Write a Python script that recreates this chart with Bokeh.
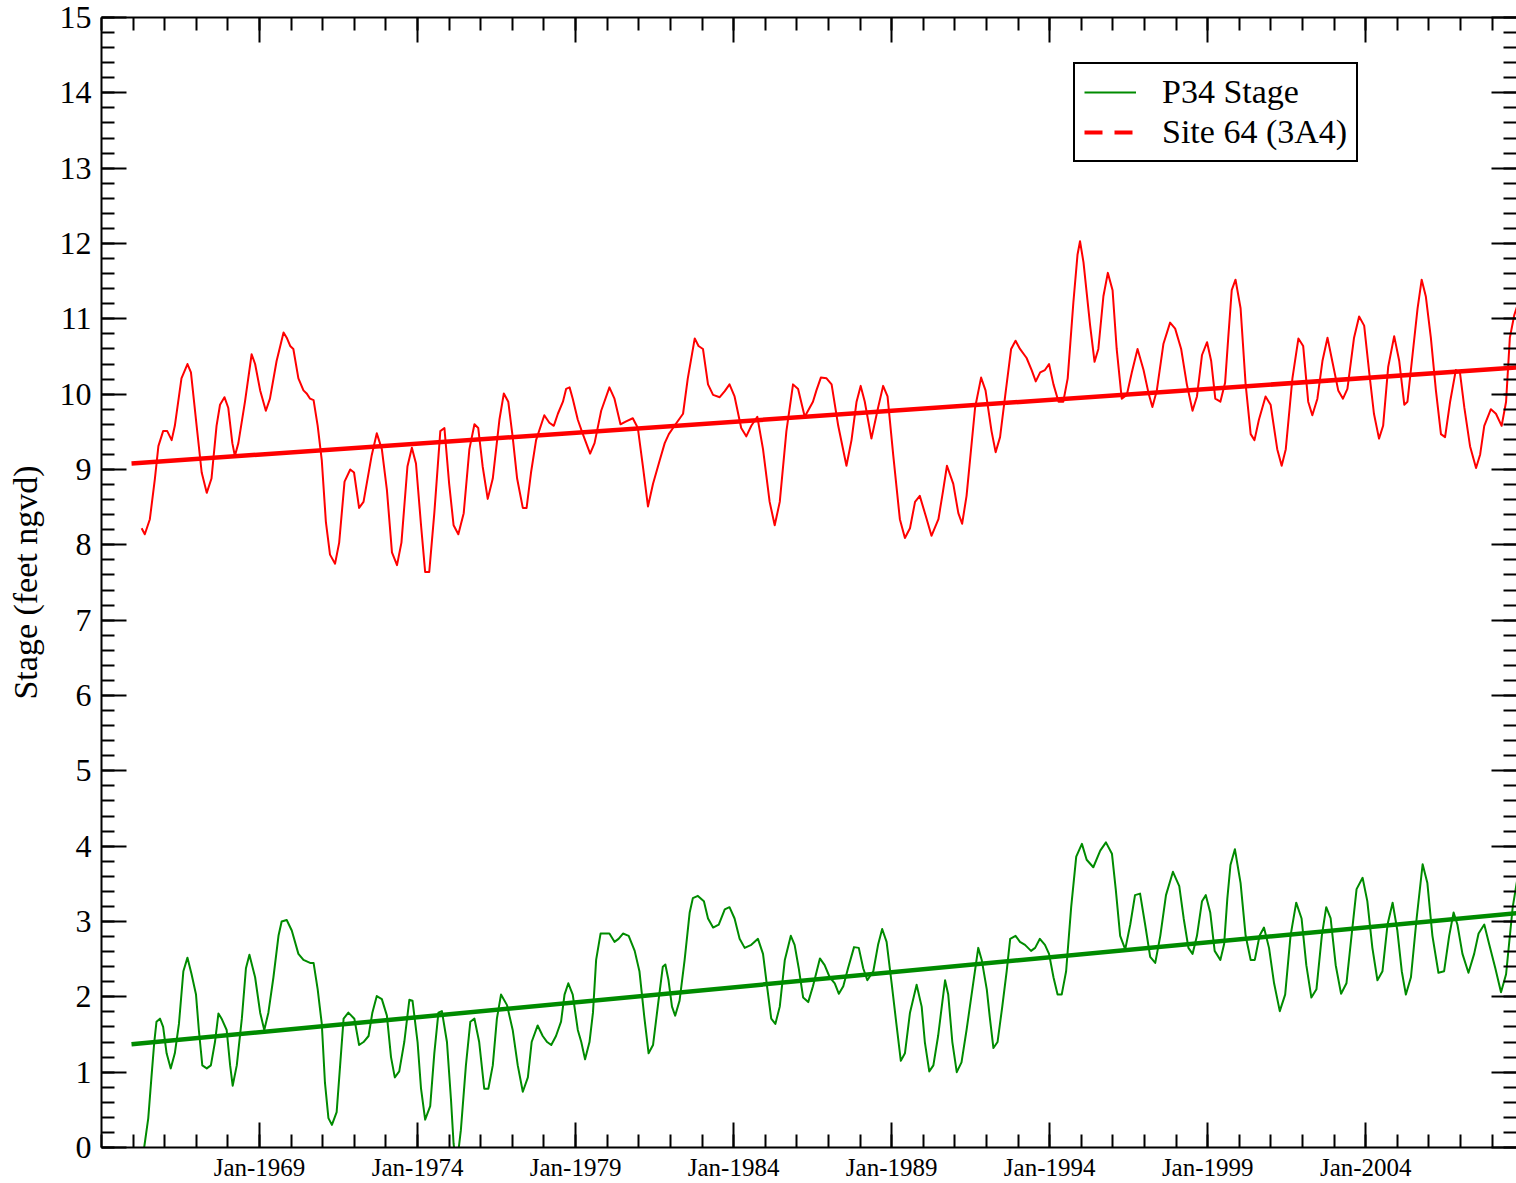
from bokeh.plotting import figure
from bokeh.models import FixedTicker, LinearAxis, Legend, LegendItem, Range1d
from bokeh.embed import file_html
from bokeh.resources import INLINE

FONT = "'Liberation Serif', 'Times New Roman', serif"
RED = "#ff0000"
GREEN = "#008b00"

# ---- data (decimal years, feet ngvd) ----
site64_year = [1965.27, 1965.37, 1965.53, 1965.69, 1965.80, 1965.95, 1966.08, 1966.22, 1966.32, 1966.53,
               1966.72, 1966.83, 1967.01, 1967.17, 1967.33, 1967.48, 1967.64, 1967.75, 1967.89, 1968.01,
               1968.14, 1968.22, 1968.33, 1968.54, 1968.75, 1968.86, 1969.02, 1969.20, 1969.33, 1969.54,
               1969.76, 1969.86, 1969.97, 1970.07, 1970.23, 1970.39, 1970.49, 1970.60, 1970.71, 1970.84,
               1970.97, 1971.10, 1971.23, 1971.39, 1971.52, 1971.69, 1971.87, 1971.99, 1972.15, 1972.29,
               1972.55, 1972.71, 1972.87, 1973.03, 1973.19, 1973.35, 1973.49, 1973.68, 1973.82, 1973.95,
               1974.11, 1974.24, 1974.37, 1974.53, 1974.72, 1974.85, 1975.00, 1975.14, 1975.29, 1975.46,
               1975.64, 1975.80, 1975.92, 1976.06, 1976.22, 1976.38, 1976.59, 1976.73, 1976.87, 1977.01,
               1977.15, 1977.33, 1977.45, 1977.59, 1977.75, 1978.01, 1978.17, 1978.31, 1978.44, 1978.60,
               1978.70, 1978.81, 1978.91, 1979.07, 1979.23, 1979.46, 1979.60, 1979.81, 1980.07, 1980.23,
               1980.42, 1980.60, 1980.81, 1980.97, 1981.13, 1981.29, 1981.45, 1981.66, 1981.82, 1981.95,
               1982.13, 1982.40, 1982.55, 1982.77, 1982.89, 1983.03, 1983.19, 1983.35, 1983.56, 1983.72,
               1983.87, 1984.03, 1984.24, 1984.40, 1984.56, 1984.75, 1984.93, 1985.14, 1985.30, 1985.46,
               1985.67, 1985.88, 1986.04, 1986.25, 1986.51, 1986.62, 1986.76, 1986.94, 1987.10, 1987.31,
               1987.57, 1987.73, 1987.89, 1988.02, 1988.15, 1988.36, 1988.57, 1988.73, 1988.87, 1989.05,
               1989.26, 1989.42, 1989.58, 1989.74, 1989.89, 1990.11, 1990.26, 1990.48, 1990.62, 1990.75,
               1990.95, 1991.11, 1991.23, 1991.37, 1991.64, 1991.83, 1991.97, 1992.16, 1992.29, 1992.43,
               1992.59, 1992.78, 1992.92, 1993.06, 1993.27, 1993.43, 1993.56, 1993.70, 1993.85, 1993.98,
               1994.12, 1994.28, 1994.43, 1994.57, 1994.75, 1994.88, 1994.96, 1995.07, 1995.28, 1995.42,
               1995.54, 1995.70, 1995.84, 1995.99, 1996.12, 1996.28, 1996.44, 1996.60, 1996.78, 1996.97,
               1997.13, 1997.25, 1997.39, 1997.60, 1997.81, 1997.97, 1998.16, 1998.34, 1998.52, 1998.66,
               1998.82, 1998.98, 1999.11, 1999.24, 1999.40, 1999.55, 1999.65, 1999.76, 1999.88, 2000.04,
               2000.20, 2000.36, 2000.48, 2000.62, 2000.83, 2000.99, 2001.20, 2001.34, 2001.47, 2001.68,
               2001.87, 2002.02, 2002.18, 2002.31, 2002.47, 2002.63, 2002.79, 2002.94, 2003.13, 2003.28,
               2003.42, 2003.63, 2003.79, 2003.95, 2004.11, 2004.26, 2004.42, 2004.55, 2004.71, 2004.90,
               2005.06, 2005.22, 2005.32, 2005.48, 2005.64, 2005.77, 2005.90, 2006.06, 2006.22, 2006.38,
               2006.51, 2006.67, 2006.85, 2006.98, 2007.12, 2007.30, 2007.49, 2007.62, 2007.75, 2007.96,
               2008.12, 2008.30, 2008.44, 2008.56, 2008.70, 2008.83]
site64_stage = [8.22, 8.14, 8.34, 8.88, 9.31, 9.51, 9.51, 9.39, 9.58, 10.21,
                10.40, 10.29, 9.58, 8.96, 8.69, 8.88, 9.58, 9.86, 9.96, 9.82,
                9.35, 9.18, 9.35, 9.90, 10.53, 10.40, 10.05, 9.78, 9.94, 10.44,
                10.82, 10.75, 10.64, 10.60, 10.21, 10.05, 10.01, 9.94, 9.92, 9.58,
                9.12, 8.30, 7.87, 7.75, 8.03, 8.84, 9.00, 8.96, 8.49, 8.57,
                9.19, 9.48, 9.27, 8.73, 7.90, 7.73, 8.03, 9.04, 9.29, 9.08,
                8.26, 7.64, 7.64, 8.42, 9.51, 9.55, 8.81, 8.26, 8.14, 8.42,
                9.27, 9.60, 9.55, 9.04, 8.61, 8.88, 9.66, 10.01, 9.90, 9.43,
                8.88, 8.49, 8.49, 8.96, 9.39, 9.72, 9.62, 9.58, 9.74, 9.90,
                10.07, 10.09, 9.94, 9.66, 9.47, 9.21, 9.35, 9.78, 10.09, 9.94,
                9.60, 9.64, 9.68, 9.55, 9.04, 8.51, 8.81, 9.12, 9.35, 9.47,
                9.58, 9.74, 10.21, 10.74, 10.64, 10.60, 10.13, 9.99, 9.96, 10.04,
                10.13, 9.97, 9.55, 9.44, 9.58, 9.70, 9.27, 8.57, 8.26, 8.57,
                9.51, 10.13, 10.07, 9.70, 9.90, 10.05, 10.22, 10.21, 10.13, 9.58,
                9.05, 9.39, 9.90, 10.11, 9.90, 9.41, 9.82, 10.11, 9.97, 9.19,
                8.34, 8.09, 8.22, 8.57, 8.65, 8.34, 8.12, 8.34, 8.70, 9.05,
                8.81, 8.42, 8.28, 8.65, 9.82, 10.22, 10.05, 9.51, 9.23, 9.43,
                9.97, 10.60, 10.71, 10.60, 10.48, 10.32, 10.17, 10.29, 10.32, 10.40,
                10.13, 9.90, 9.90, 10.21, 11.22, 11.85, 12.03, 11.75, 10.91, 10.43,
                10.60, 11.30, 11.61, 11.38, 10.60, 9.94, 9.99, 10.29, 10.60, 10.32,
                10.01, 9.83, 10.05, 10.67, 10.95, 10.87, 10.60, 10.13, 9.78, 9.97,
                10.52, 10.69, 10.44, 9.94, 9.90, 10.15, 10.75, 11.38, 11.52, 11.14,
                10.13, 9.47, 9.39, 9.66, 9.97, 9.86, 9.27, 9.05, 9.27, 10.21,
                10.74, 10.64, 9.90, 9.72, 9.94, 10.44, 10.75, 10.44, 10.05, 9.94,
                10.07, 10.75, 11.03, 10.91, 10.29, 9.74, 9.41, 9.58, 10.36, 10.77,
                10.44, 9.86, 9.90, 10.52, 11.14, 11.52, 11.30, 10.75, 10.05, 9.47,
                9.43, 9.90, 10.32, 10.29, 9.82, 9.31, 9.02, 9.20, 9.58, 9.80,
                9.74, 9.58, 9.90, 10.75, 11.05, 11.22]

p34_year = [1965.35, 1965.48, 1965.58, 1965.67, 1965.74, 1965.85, 1965.95, 1966.06, 1966.19, 1966.32,
            1966.45, 1966.59, 1966.72, 1966.85, 1966.99, 1967.08, 1967.19, 1967.33, 1967.46, 1967.59,
            1967.70, 1967.80, 1967.96, 1968.07, 1968.15, 1968.28, 1968.44, 1968.57, 1968.68, 1968.86,
            1969.02, 1969.15, 1969.28, 1969.44, 1969.60, 1969.70, 1969.86, 1970.02, 1970.23, 1970.39,
            1970.60, 1970.71, 1970.84, 1970.97, 1971.07, 1971.18, 1971.29, 1971.44, 1971.55, 1971.66,
            1971.81, 1972.00, 1972.15, 1972.29, 1972.45, 1972.57, 1972.71, 1972.87, 1973.03, 1973.16,
            1973.28, 1973.42, 1973.58, 1973.74, 1973.84, 1974.00, 1974.11, 1974.24, 1974.40, 1974.53,
            1974.66, 1974.77, 1974.93, 1975.06, 1975.14, 1975.23, 1975.32, 1975.37, 1975.53, 1975.67,
            1975.80, 1975.95, 1976.11, 1976.24, 1976.38, 1976.51, 1976.64, 1976.83, 1977.01, 1977.17,
            1977.33, 1977.49, 1977.61, 1977.80, 1977.96, 1978.10, 1978.23, 1978.38, 1978.54, 1978.65,
            1978.77, 1978.91, 1979.07, 1979.18, 1979.30, 1979.44, 1979.55, 1979.65, 1979.79, 1979.92,
            1980.07, 1980.23, 1980.36, 1980.50, 1980.68, 1980.87, 1981.02, 1981.18, 1981.31, 1981.45,
            1981.60, 1981.76, 1981.84, 1981.94, 1982.05, 1982.15, 1982.29, 1982.45, 1982.61, 1982.71,
            1982.87, 1983.06, 1983.19, 1983.35, 1983.53, 1983.72, 1983.87, 1984.03, 1984.19, 1984.35,
            1984.56, 1984.77, 1984.93, 1985.07, 1985.19, 1985.32, 1985.46, 1985.62, 1985.81, 1985.93,
            1986.06, 1986.20, 1986.36, 1986.51, 1986.73, 1986.88, 1987.04, 1987.20, 1987.33, 1987.47,
            1987.62, 1987.81, 1987.96, 1988.10, 1988.23, 1988.42, 1988.57, 1988.70, 1988.84, 1989.00,
            1989.15, 1989.29, 1989.42, 1989.58, 1989.79, 1989.95, 1990.05, 1990.19, 1990.32, 1990.47,
            1990.69, 1990.79, 1990.92, 1991.06, 1991.21, 1991.37, 1991.58, 1991.74, 1991.85, 1992.01,
            1992.11, 1992.22, 1992.35, 1992.50, 1992.64, 1992.75, 1992.92, 1993.06, 1993.22, 1993.41,
            1993.54, 1993.69, 1993.85, 1993.98, 1994.12, 1994.25, 1994.38, 1994.52, 1994.68, 1994.84,
            1995.02, 1995.17, 1995.38, 1995.60, 1995.78, 1995.97, 1996.09, 1996.23, 1996.39, 1996.55,
            1996.70, 1996.86, 1997.02, 1997.18, 1997.34, 1997.50, 1997.68, 1997.90, 1998.10, 1998.24,
            1998.39, 1998.52, 1998.66, 1998.82, 1998.94, 1999.08, 1999.22, 1999.40, 1999.52, 1999.62,
            1999.72, 1999.86, 2000.04, 2000.20, 2000.36, 2000.49, 2000.64, 2000.78, 2000.94, 2001.10,
            2001.28, 2001.45, 2001.62, 2001.80, 2001.97, 2002.12, 2002.28, 2002.44, 2002.61, 2002.75,
            2002.89, 2003.05, 2003.22, 2003.39, 2003.55, 2003.71, 2003.90, 2004.05, 2004.21, 2004.37,
            2004.53, 2004.69, 2004.85, 2005.00, 2005.14, 2005.27, 2005.43, 2005.61, 2005.80, 2005.95,
            2006.11, 2006.30, 2006.48, 2006.64, 2006.78, 2006.90, 2007.06, 2007.25, 2007.43, 2007.57,
            2007.75, 2007.91, 2008.10, 2008.28, 2008.44, 2008.65, 2008.83]
p34_stage = [0.00, 0.39, 0.93, 1.40, 1.67, 1.71, 1.60, 1.25, 1.05, 1.25,
             1.64, 2.34, 2.52, 2.30, 2.03, 1.56, 1.09, 1.05, 1.09, 1.40,
             1.78, 1.71, 1.56, 1.09, 0.82, 1.09, 1.71, 2.38, 2.56, 2.26,
             1.79, 1.56, 1.79, 2.26, 2.81, 3.00, 3.02, 2.88, 2.57, 2.49,
             2.45, 2.45, 2.10, 1.64, 0.86, 0.39, 0.30, 0.47, 1.09, 1.71,
             1.79, 1.71, 1.36, 1.40, 1.48, 1.79, 2.01, 1.97, 1.75, 1.20,
             0.93, 1.01, 1.40, 1.96, 1.95, 1.40, 0.78, 0.37, 0.55, 1.25,
             1.79, 1.81, 1.40, 0.62, 0.05, -0.25, 0.05, 0.23, 1.09, 1.67,
             1.71, 1.40, 0.78, 0.78, 1.09, 1.71, 2.03, 1.89, 1.56, 1.09,
             0.74, 0.93, 1.40, 1.62, 1.48, 1.40, 1.36, 1.48, 1.67, 2.03,
             2.18, 2.03, 1.56, 1.40, 1.17, 1.40, 1.79, 2.49, 2.84, 2.84,
             2.84, 2.73, 2.77, 2.84, 2.81, 2.61, 2.34, 1.71, 1.25, 1.36,
             1.87, 2.40, 2.43, 2.22, 1.87, 1.75, 1.95, 2.49, 3.12, 3.31,
             3.34, 3.27, 3.04, 2.92, 2.96, 3.16, 3.19, 3.04, 2.77, 2.65,
             2.69, 2.77, 2.57, 2.10, 1.71, 1.64, 1.87, 2.49, 2.81, 2.69,
             2.38, 1.99, 1.93, 2.14, 2.51, 2.42, 2.26, 2.18, 2.04, 2.14,
             2.38, 2.66, 2.65, 2.38, 2.22, 2.34, 2.69, 2.90, 2.73, 2.18,
             1.64, 1.15, 1.25, 1.79, 2.16, 1.87, 1.40, 1.01, 1.09, 1.48,
             2.22, 2.03, 1.40, 1.00, 1.13, 1.56, 2.18, 2.65, 2.49, 2.10,
             1.71, 1.32, 1.40, 1.87, 2.34, 2.77, 2.81, 2.73, 2.69, 2.61,
             2.65, 2.77, 2.69, 2.57, 2.26, 2.03, 2.03, 2.34, 3.19, 3.86,
             4.03, 3.82, 3.72, 3.94, 4.05, 3.90, 3.43, 2.81, 2.63, 2.96,
             3.35, 3.37, 2.96, 2.53, 2.45, 2.81, 3.35, 3.66, 3.47, 3.04,
             2.65, 2.57, 2.81, 3.27, 3.35, 3.12, 2.61, 2.49, 2.70, 3.30,
             3.75, 3.96, 3.51, 2.81, 2.49, 2.49, 2.81, 2.92, 2.65, 2.18,
             1.81, 2.03, 2.81, 3.25, 3.04, 2.42, 1.99, 2.10, 2.81, 3.19,
             3.04, 2.42, 2.04, 2.18, 2.81, 3.43, 3.58, 3.27, 2.65, 2.22,
             2.34, 2.96, 3.25, 2.88, 2.34, 2.03, 2.26, 3.04, 3.76, 3.51,
             2.81, 2.32, 2.34, 2.81, 3.12, 2.96, 2.57, 2.32, 2.57, 2.84,
             2.96, 2.69, 2.38, 2.06, 2.30, 3.19, 3.65]

trend_year = [1964.95, 2009.0]
site64_trend = [9.08, 10.36]
p34_trend = [1.37, 3.12]

x_major = [1969, 1974, 1979, 1984, 1989, 1994, 1999, 2004]
x_labels = ["Jan-1969", "Jan-1974", "Jan-1979", "Jan-1984", "Jan-1989", "Jan-1994", "Jan-1999", "Jan-2004"]
x_minor = list(range(1964, 2010))
y_major = list(range(0, 16))
y_minor = [i / 5 for i in range(0, 76)]

p = figure(width=1516, height=1183, output_backend="svg", toolbar_location=None,
           x_range=Range1d(1964.0, 2008.77), y_range=Range1d(0, 15),
           min_border_left=101, min_border_right=0, min_border_top=17, min_border_bottom=0)
p.xgrid.visible = False
p.ygrid.visible = False
p.outline_line_color = None
p.background_fill_color = "white"

xt = FixedTicker(ticks=x_major, minor_ticks=x_minor)
yt = FixedTicker(ticks=y_major, minor_ticks=y_minor)


def style(ax, line=True):
    ax.major_tick_in = 25
    ax.major_tick_out = 0
    ax.minor_tick_in = 13
    ax.minor_tick_out = 0
    ax.major_tick_line_width = 2
    ax.minor_tick_line_width = 2
    ax.major_tick_line_color = "black"
    ax.minor_tick_line_color = "black"
    ax.axis_line_width = 2
    ax.axis_line_color = "black" if line else None
    ax.major_label_text_font = FONT
    ax.major_label_text_color = "black"


xa = p.xaxis[0]
xa.ticker = xt
style(xa)
xa.major_label_overrides = {float(v): s for v, s in zip(x_major, x_labels)}
xa.major_label_text_font_size = "25px"
xa.major_label_text_line_height = 1.0
xa.major_label_standoff = 6

ya = p.yaxis[0]
ya.ticker = yt
style(ya)
ya.major_label_text_font_size = "32px"
ya.major_label_standoff = 10
ya.axis_label = "Stage (feet ngvd)"
ya.axis_label_text_font = FONT
ya.axis_label_text_font_size = "34px"
ya.axis_label_text_font_style = "normal"
ya.axis_label_text_color = "black"
ya.axis_label_standoff = 13

# mirrored tick marks on the top and right edges (no labels)
top = LinearAxis(ticker=xt)
style(top)
top.major_label_overrides = {float(v): "" for v in x_major}
top.major_label_text_font_size = "1px"
top.major_label_standoff = 0
p.add_layout(top, "above")
right = LinearAxis(ticker=yt)
style(right, line=False)
right.major_label_overrides = {float(v): "" for v in y_major}
right.major_label_text_font_size = "1px"
right.major_label_standoff = 0
p.add_layout(right, "right")

r_site = p.line(site64_year, site64_stage, line_color=RED, line_width=2, line_join="round")
r_p34 = p.line(p34_year, p34_stage, line_color=GREEN, line_width=2, line_join="round")
p.line(trend_year, site64_trend, line_color=RED, line_width=4.5)
p.line(trend_year, p34_trend, line_color=GREEN, line_width=4.5)
nan = float("nan")
r_site_key = p.line(x=[nan, nan], y=[nan, nan], line_color=RED, line_width=4, line_dash="18 12 18 200")

legend = Legend(items=[LegendItem(label="P34 Stage", renderers=[r_p34]),
                       LegendItem(label="Site 64 (3A4)", renderers=[r_site_key])],
                location=(972, 985))
legend.label_text_font = FONT
legend.label_text_font_size = "34px"
legend.label_text_color = "black"
legend.glyph_width = 52
legend.label_standoff = 26
legend.padding = 9
legend.spacing = 2
legend.label_height = 38
legend.border_line_color = "black"
legend.border_line_width = 2
legend.border_line_alpha = 1.0
legend.background_fill_color = "white"
legend.background_fill_alpha = 1.0
legend.margin = 0
p.add_layout(legend, "center")

open("out.html", "w").write(file_html(p, INLINE))
